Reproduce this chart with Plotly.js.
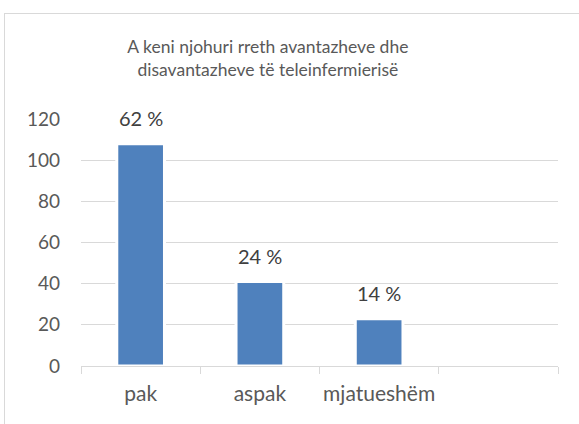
<!DOCTYPE html>
<html>
<head>
<meta charset="utf-8">
<script src="https://cdn.plot.ly/plotly-3.0.1.min.js"></script>
<style>
  html, body { margin: 0; padding: 0; background: #ffffff; overflow: hidden; }
  #frame { position: absolute; left: 4px; top: 13px; width: 574px; height: 410px;
           border-left: 1px solid #d9d9d9; border-top: 1px solid #d9d9d9; }
  #chart { width: 574px; height: 410px; }
</style>
</head>
<body>
<div id="frame"><div id="chart"></div></div>
<script>
const categories = ["pak", "aspak", "mjatueshëm", " "];
const values = [108, 41, 23, null];
const labels = ["62 %", "24 %", "14 %", ""];
const yTicks = [0, 20, 40, 60, 80, 100, 120];
const titleText = "A keni njohuri rreth avantazheve dhe<br>disavantazheve të teleinfermierisë";

const font = "Lato, 'Open Sans', sans-serif";

const trace = {
  type: "bar",
  x: categories,
  y: values,
  marker: { color: "#4f81bd", line: { color: "#ffffff", width: 3 } },
  hoverinfo: "none"
};

const annotations = categories.map((c, i) => labels[i] ? {
  x: c, y: values[i], xref: "x", yref: "y",
  text: labels[i], showarrow: false,
  yanchor: "bottom", yshift: 12,
  font: { family: font, size: 20, color: "#404040" }
} : null).filter(a => a);

const layout = {
  width: 574, height: 410,
  margin: { l: 76, r: 21, t: 105, b: 58 },
  paper_bgcolor: "#ffffff", plot_bgcolor: "#ffffff",
  showlegend: false,
  bargap: 0.6,
  title: {
    text: titleText,
    x: 0.458, xref: "container", xanchor: "center",
    y: 0.905, yref: "container", yanchor: "top",
    font: { family: font, size: 17.5, color: "#595959" }
  },
  xaxis: {
    type: "category",
    categoryorder: "array", categoryarray: categories,
    showgrid: false, zeroline: false,
    showline: true, linecolor: "#d9d9d9", linewidth: 1,
    ticks: "outside", tickson: "boundaries", ticklen: 7, tickcolor: "#d9d9d9",
    tickangle: 0,
    ticklabelstandoff: 9,
    tickfont: { family: font, size: 21, color: "#595959" },
    fixedrange: true
  },
  yaxis: {
    range: [0, 120],
    tickvals: yTicks,
    ticktext: yTicks.map(String),
    showgrid: true, gridcolor: "#d9d9d9", gridwidth: 1,
    zeroline: false, showline: false, ticks: "",
    ticklabelstandoff: 20,
    tickfont: { family: font, size: 19, color: "#595959" },
    fixedrange: true
  },
  annotations: annotations
};

Plotly.newPlot("chart", [trace], layout, { displayModeBar: false, staticPlot: true });
</script>
</body>
</html>
